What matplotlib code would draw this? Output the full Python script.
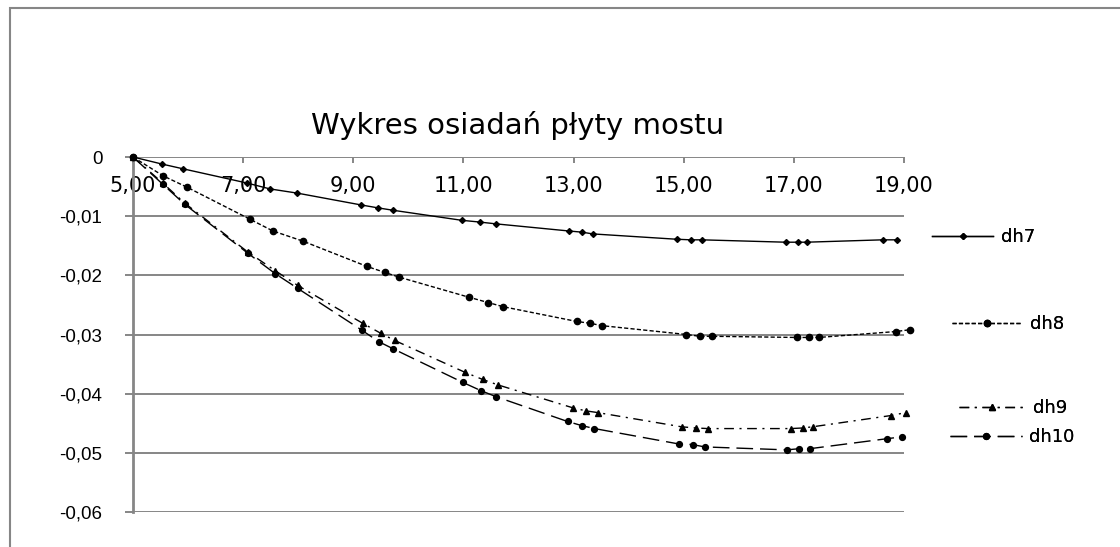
import matplotlib
matplotlib.use("Agg")
import matplotlib.pyplot as plt
from matplotlib.patches import Rectangle
from matplotlib.ticker import FixedLocator, FuncFormatter

# ---------- Data ----------
x_dh7 = [5.00, 5.53, 5.91, 7.07, 7.49, 7.98, 9.14, 9.45, 9.72, 10.97, 11.30, 11.59,
         12.91, 13.15, 13.35, 14.87, 15.13, 15.33, 16.85, 17.07, 17.23, 18.61, 18.87]
dh7 = [0.0, -0.0012, -0.0020, -0.0044, -0.0054, -0.0061, -0.0081, -0.0086, -0.0090,
       -0.0107, -0.0110, -0.0113, -0.0125, -0.0127, -0.0130, -0.0139, -0.0140, -0.0140,
       -0.0144, -0.0144, -0.0144, -0.0140, -0.0140]

x_dh8 = [5.00, 5.55, 5.98, 7.12, 7.54, 8.08, 9.25, 9.57, 9.83, 11.10, 11.45, 11.72,
         13.06, 13.30, 13.51, 15.05, 15.29, 15.51, 17.05, 17.27, 17.45, 18.85, 19.10]
dh8 = [0.0, -0.0032, -0.0051, -0.0105, -0.0125, -0.0142, -0.0185, -0.0195, -0.0203,
       -0.0237, -0.0246, -0.0253, -0.0278, -0.0281, -0.0285, -0.0300, -0.0303, -0.0303,
       -0.0305, -0.0305, -0.0305, -0.0295, -0.0292]

x_dh9 = [5.00, 5.54, 5.94, 7.09, 7.58, 7.99, 9.17, 9.50, 9.75, 11.03, 11.35, 11.62,
         12.99, 13.22, 13.44, 14.96, 15.22, 15.44, 16.94, 17.16, 17.34, 18.76, 19.03]
dh9 = [0.0, -0.0044, -0.0078, -0.0161, -0.0192, -0.0217, -0.0281, -0.0298, -0.0310,
       -0.0364, -0.0376, -0.0385, -0.0424, -0.0429, -0.0432, -0.0456, -0.0458, -0.0459,
       -0.0459, -0.0458, -0.0456, -0.0437, -0.0432]

x_dh10 = [5.00, 5.54, 5.94, 7.09, 7.58, 7.99, 9.16, 9.46, 9.72, 10.99, 11.32, 11.59,
          12.89, 13.15, 13.38, 14.91, 15.16, 15.38, 16.87, 17.10, 17.29, 18.70, 18.96]
dh10 = [0.0, -0.0046, -0.0080, -0.0163, -0.0197, -0.0222, -0.0293, -0.0312, -0.0324,
        -0.0381, -0.0395, -0.0405, -0.0447, -0.0454, -0.0459, -0.0485, -0.0486, -0.0490,
        -0.0495, -0.0493, -0.0493, -0.0476, -0.0473]

x_ticks = [5, 7, 9, 11, 13, 15, 17, 19]
y_ticks = [0, -0.01, -0.02, -0.03, -0.04, -0.05, -0.06]
title = "Wykres osiadań płyty mostu"

GRID = "#868686"

# ---------- Figure ----------
fig = plt.figure(figsize=(11.2, 5.47), dpi=100)
ax = fig.add_axes([133 / 1120, 1 - 512 / 547, 771 / 1120, 355 / 547])

styles = [
    ("dh7", x_dh7, dh7, dict(linestyle="-", marker="D", markersize=3)),
    ("dh8", x_dh8, dh8, dict(dashes=(3, 1.6), marker="o", markersize=4.5)),
    ("dh9", x_dh9, dh9, dict(dashes=(7, 4, 1.5, 4), marker="^", markersize=5)),
    ("dh10", x_dh10, dh10, dict(dashes=(12, 5), marker="o", markersize=4.2)),
]
handles = {}
for name, xs, ys, st in styles:
    (ln,) = ax.plot(xs, ys, color="black", lw=1.0, clip_on=False, zorder=3, **st)
    handles[name] = ln

ax.set_xlim(5, 19)
ax.set_ylim(-0.06, 0)

for s in ["top", "right", "bottom"]:
    ax.spines[s].set_visible(False)
ax.spines["left"].set_color(GRID)
ax.spines["left"].set_linewidth(2)

ax.yaxis.set_major_locator(FixedLocator(y_ticks))
ax.yaxis.set_major_formatter(FuncFormatter(lambda v, p: "0" if abs(v) < 1e-9 else f"{v:.2f}".replace(".", ",")))
ax.grid(axis="y", color=GRID, linewidth=1.4)
ax.tick_params(axis="y", direction="out", length=6, width=1.4, color=GRID, pad=16,
               labelsize=13.5, labelfontfamily="Liberation Sans")

# x axis sits at y = 0 (top), ticks pointing down, labels below the line
ax.xaxis.tick_top()
ax.xaxis.set_major_locator(FixedLocator(x_ticks))
ax.xaxis.set_major_formatter(FuncFormatter(lambda v, p: f"{v:.2f}".replace(".", ",")))
ax.tick_params(axis="x", direction="in", length=4.5, width=1.4, color=GRID, pad=-28,
               labelsize=15)

# ---------- Title ----------
fig.text(518 / 1120, 1 - 126 / 547, title, ha="center", va="center", fontsize=21)

# ---------- Legend (entries placed separately like in the source) ----------
leg_pos = [("dh7", 932, 237, 3.4), ("dh8", 952, 324, 3.9), ("dh9", 959, 408, 3.7), ("dh10", 950, 437, 4.0)]
for name, px, py, hl in leg_pos:
    lg = fig.legend([handles[name]], [name], loc="center left",
                    bbox_to_anchor=(px / 1120, 1 - py / 547), frameon=False,
                    borderpad=0, borderaxespad=0, handlelength=hl, handletextpad=0.4,
                    numpoints=1, fontsize=13)
    fig.add_artist(lg)

# chart area border (only top & left visible in the crop)
fig.patches.append(Rectangle((10 / 1120, -0.1), 1.0, 1.1 - 8 / 547, transform=fig.transFigure,
                             fill=False, edgecolor=GRID, linewidth=1.5))

plt.savefig("out.png", dpi=100)
